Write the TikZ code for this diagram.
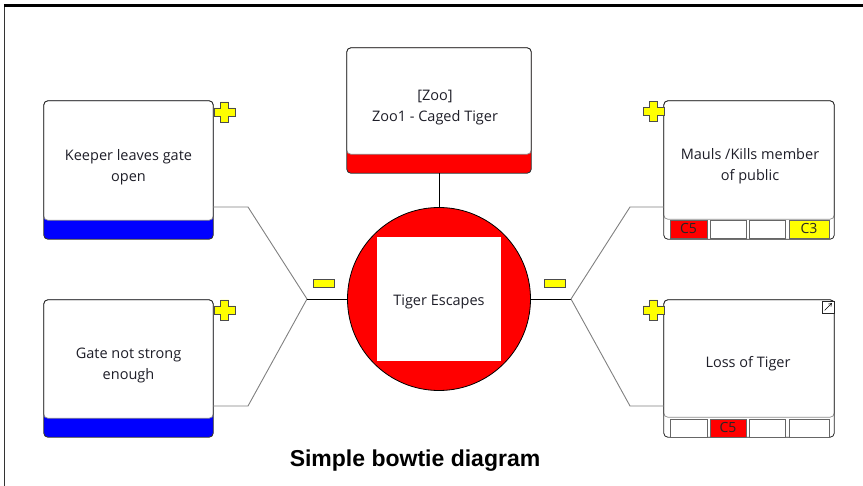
\documentclass[tikz,border=0pt]{standalone}
\usepackage{fontspec}
\usetikzlibrary{arrows.meta}
\setmainfont{Open Sans}
\newfontfamily\titlefont{Liberation Sans}
\definecolor{bred}{RGB}{255,0,0}
\definecolor{bblue}{RGB}{0,0,255}
\definecolor{byellow}{RGB}{255,255,0}
\definecolor{txt}{RGB}{30,30,40}
\tikzset{
  boxframe/.style={draw=black!85, line width=0.8pt, rounded corners=4pt},
  innerframe/.style={draw=black!45, line width=0.7pt, rounded corners=4pt, fill=white},
  conn/.style={draw=black!50, line width=0.9pt},
  connb/.style={draw=black, line width=0.9pt},
  lbl/.style={font=\fontsize{14.5}{21}\selectfont, text=txt, align=center, inner sep=0pt},
  cellbox/.style={draw=black!60, line width=0.8pt, minimum height=18pt, inner sep=0pt, font=\fontsize{14}{14}\selectfont, text=black!85},
  plusicon/.pic={\filldraw[fill=byellow, draw=black!70, line width=0.7pt]
     (-4,-10)--(4,-10)--(4,-4)--(10.5,-4)--(10.5,4)--(4,4)--(4,10)--(-4,10)--(-4,4)--(-10.5,4)--(-10.5,-4)--(-4,-4)--cycle;},
  minusicon/.style={fill=byellow, draw=black!70, line width=0.7pt, minimum width=21pt, minimum height=8pt, inner sep=0pt},
}
\begin{document}
\begin{tikzpicture}[x=1pt,y=-1pt]
\useasboundingbox (0,0) rectangle (863,486);
% outer frame
\draw[line width=1.5pt, black!80] (4.5,495) -- (4.5,5.5);
\draw[line width=2.4pt, black] (3.8,5.5) -- (875,5.5);

% ---- left box 1
\node[fill=bblue, rounded corners=4pt, minimum width=169pt, minimum height=138pt, inner sep=0pt] (keeper) at (128.5,170) {};
\draw[innerframe] (keeper.north west) rectangle ([yshift=19pt]keeper.south east);
\draw[boxframe] (keeper.north west) rectangle (keeper.south east);
\node[lbl] (keepertxt) at (128.5,167) {Keeper leaves gate\\open};
\pic at (224.5,112) {plusicon};

% ---- left box 2
\node[fill=bblue, rounded corners=4pt, minimum width=169pt, minimum height=137pt, inner sep=0pt] (gate) at (128.5,368.5) {};
\draw[innerframe] (gate.north west) rectangle ([yshift=19pt]gate.south east);
\draw[boxframe] (gate.north west) rectangle (gate.south east);
\node[lbl] (gatetxt) at (128.5,365.5) {Gate not strong\\enough};
\pic at (224.5,310) {plusicon};

% ---- top box
\node[fill=bred, rounded corners=4pt, minimum width=184pt, minimum height=125pt, inner sep=0pt] (zoo) at (439,110.5) {};
\draw[innerframe] (zoo.north west) rectangle ([yshift=19pt]zoo.south east);
\draw[boxframe] (zoo.north west) rectangle (zoo.south east);
\node[lbl] (zootxt) at (435,107.5) {[Zoo]\\Zoo1 - Caged Tiger};

% ---- right box 1
\node[fill=white, rounded corners=4pt, minimum width=170pt, minimum height=138pt, inner sep=0pt] (mauls) at (749,170) {};
\draw[innerframe] (mauls.north west) rectangle ([yshift=20pt]mauls.south east);
\draw[boxframe] (mauls.north west) rectangle (mauls.south east);
\node[lbl] (maulstxt) at (750,166.5) {Mauls /Kills member\\of public};
\node[cellbox, fill=bred, minimum width=37pt] (mc1) at (688.5,229) {C5};
\node[cellbox, fill=white, minimum width=36pt] (mc2) at (728,229) {};
\node[cellbox, fill=white, minimum width=36pt] (mc3) at (767,229) {};
\node[cellbox, fill=byellow, minimum width=40pt] (mc4) at (809,229) {C3};
\pic at (653.5,111.5) {plusicon};

% ---- right box 2
\node[fill=white, rounded corners=4pt, minimum width=170pt, minimum height=137pt, inner sep=0pt] (loss) at (749,368.5) {};
\draw[innerframe] (loss.north west) rectangle ([yshift=20pt]loss.south east);
\draw[boxframe] (loss.north west) rectangle (loss.south east);
\node[lbl] (losstxt) at (748,364) {Loss of Tiger};
\node[cellbox, fill=white, minimum width=37pt] (lc1) at (688.5,428) {};
\node[cellbox, fill=bred, minimum width=36pt] (lc2) at (728,428) {C5};
\node[cellbox, fill=white, minimum width=36pt] (lc3) at (767,428) {};
\node[cellbox, fill=white, minimum width=40pt] (lc4) at (809,428) {};
\pic at (653.5,310) {plusicon};
\node[draw=black!85, fill=white, line width=0.7pt, minimum size=12pt, inner sep=0pt] (lossicon) at (828,307) {};
\draw[black, line width=0.6pt, -{Straight Barb[length=2.5pt,width=3.5pt]}] ([shift={(3pt,3pt)}]lossicon.south west) -- ([shift={(-2.5pt,-2.5pt)}]lossicon.north east);

% ---- centre
\node[circle, fill=bred, draw=black, line width=0.8pt, minimum size=183pt, inner sep=0pt] (tiger) at (439,299) {};
\node[fill=white, minimum size=124pt, inner sep=0pt] (tsq) at (tiger.center) {};
\node[lbl] (tigertxt) at (439,301.5) {Tiger Escapes};

% ---- junctions
\coordinate (jl) at (307,299);
\coordinate (jr) at (571,299);
\coordinate (kb) at (248,207);
\coordinate (gb) at (248,406);
\coordinate (mb) at (630,207);
\coordinate (lb) at (630,406);

\draw[conn] (keeper.east |- kb) -- (kb) -- (jl);
\draw[conn] (gate.east |- gb) -- (gb) -- (jl);
\draw[connb] (jl) -- (tiger.west);
\draw[connb] (tiger.east) -- (jr);
\draw[conn] (mauls.west |- mb) -- (mb) -- (jr);
\draw[conn] (loss.west |- lb) -- (lb) -- (jr);
\draw[connb] (zoo.south) -- (tiger.north);

\node[minusicon] (minusl) at (323.5,283) {};
\node[minusicon] (minusr) at (555,283) {};

% ---- title
\node[font=\titlefont\bfseries\fontsize{23}{26}\selectfont, anchor=base, inner sep=0pt] (title) at (415,466.5) {Simple bowtie diagram};
\end{tikzpicture}
\end{document}
